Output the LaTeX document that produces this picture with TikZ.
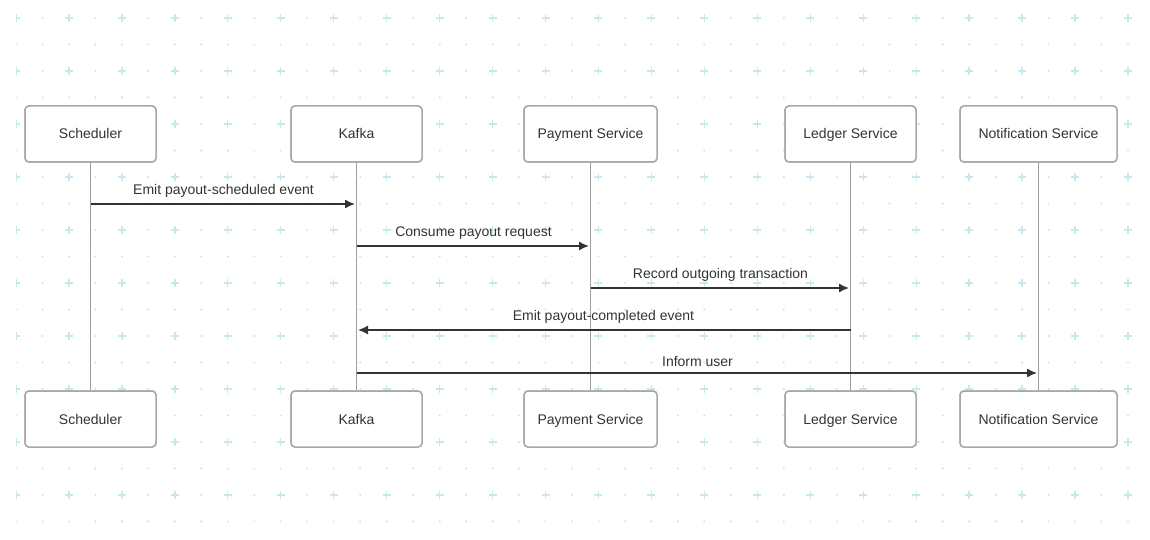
\documentclass[tikz,border=0pt]{standalone}
\usepackage{fontspec}
\setmainfont{Liberation Sans}
\usetikzlibrary{positioning, arrows.meta}
\definecolor{gridteal}{HTML}{C9E7EE}
\definecolor{boxgray}{HTML}{A8A8A8}
\definecolor{lifegray}{HTML}{9E9E9E}
\definecolor{inkdark}{HTML}{333333}
\tikzstyle{actor}=[draw=boxgray, fill=white, line width=1.5pt, rounded corners=4pt, minimum height=56pt, text height=11pt, text depth=1pt, text=inkdark, font=\fontsize{14}{16}\selectfont]
\tikzstyle{lifeline}=[lifegray, line width=1.6pt]
\tikzstyle{msg}=[-{Latex[length=10pt, width=9pt]}, inkdark, line width=1.5pt, shorten >=1.5pt]
\tikzstyle{msgtext}=[text=inkdark, font=\fontsize{14}{16}\selectfont, inner sep=0pt]
\newcommand{\drawactors}[2]{
  \node[actor, minimum width=131pt] (sched#2) at (90.5, #1) {Scheduler};
  \node[actor, minimum width=131pt] (kafka#2) at (356.5, #1) {Kafka};
  \node[actor, minimum width=133pt] (pay#2) at (590.5, #1) {Payment Service};
  \node[actor, minimum width=131pt] (ledger#2) at (850.5, #1) {Ledger Service};
  \node[actor, minimum width=157pt] (notify#2) at (1038.5, #1) {Notification Service};
}

\begin{document}
\begin{tikzpicture}[x=1pt, y=-1pt]
    \useasboundingbox (0, 0) rectangle (1150, 540);
    % background grid
    \begin{scope}
      \clip (16, 0) rectangle (1150, 540);
      \foreach \gy in {0,...,9} {
        \foreach \gx in {0,...,21} {
          \draw[gridteal, line width=1.3pt] (16 + 52.95*\gx - 4, 18 + 53*\gy) -- ++(8, 0);
          \draw[gridteal, line width=1.3pt] (16 + 52.95*\gx, 18 + 53*\gy - 4) -- ++(0, 8);
        }
        \foreach \gx in {0,...,20}
          \fill[gridteal] (42.5 + 52.95*\gx, 18 + 53*\gy) circle (1.2pt);
        \foreach \gx in {0,...,42}
          \fill[gridteal] (16 + 26.475*\gx, 44.5 + 53*\gy) circle (1.2pt);
      }
    \end{scope}
    % lifelines first, boxes on top
    \drawactors{134}{}
    \drawactors{419}{b}
    \foreach \who in {sched, kafka, pay, ledger, notify}
      \draw[lifeline] (\who.south) -- (\who b.north);
    \drawactors{134}{}
    \drawactors{419}{b}
    % messages
    \draw[msg] (sched.south |- 0, 204) -- node[msgtext, above=6pt] {Emit payout-scheduled event} (kafka.south |- 0, 204);
    \draw[msg] (kafka.south |- 0, 246) -- node[msgtext, above=6pt] {Consume payout request} (pay.south |- 0, 246);
    \draw[msg] (pay.south |- 0, 288) -- node[msgtext, above=6pt] {Record outgoing transaction} (ledger.south |- 0, 288);
    \draw[msg] (ledger.south |- 0, 330) -- node[msgtext, above=6pt] {Emit payout-completed event} (kafka.south |- 0, 330);
    \draw[msg] (kafka.south |- 0, 373) -- node[msgtext, above=6pt] {Inform user} (notify.south |- 0, 373);
  \end{tikzpicture}
\end{document}
